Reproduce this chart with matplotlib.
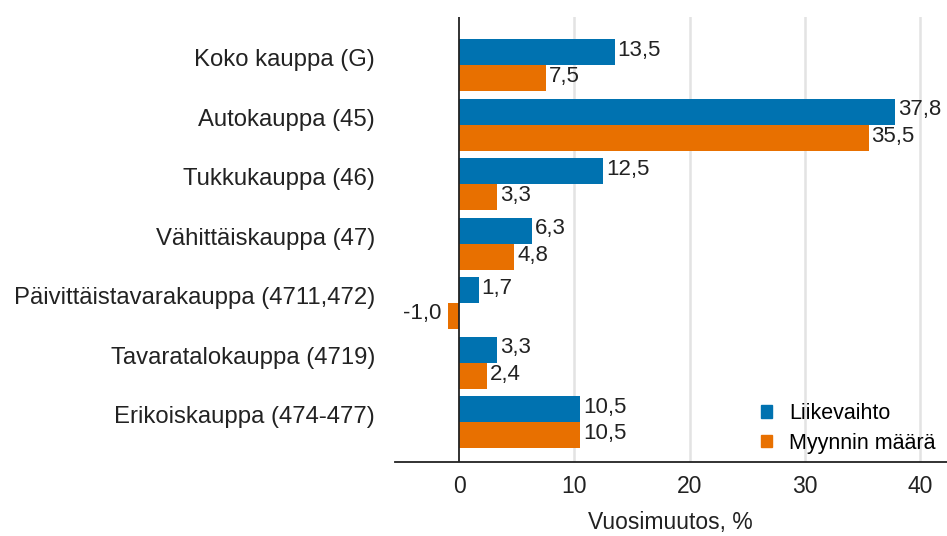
import numpy as np
import matplotlib.pyplot as plt
from matplotlib.patches import Patch
from matplotlib.transforms import ScaledTranslation

plt.rcParams['font.family'] = ['Liberation Sans', 'DejaVu Sans']

categories = ['Koko kauppa (G)', 'Autokauppa (45)', 'Tukkukauppa (46)',
              'Vähittäiskauppa (47)', 'Päivittäistavarakauppa (4711,472)',
              'Tavaratalokauppa (4719)', 'Erikoiskauppa (474-477)']
liikevaihto = [13.5, 37.8, 12.5, 6.3, 1.7, 3.3, 10.5]
myynti = [7.5, 35.5, 3.3, 4.8, -1.0, 2.4, 10.5]
series_names = ['Liikevaihto', 'Myynnin määrä']
colors = ['#0072b0', '#e87000']

fig = plt.figure(figsize=(9.47, 5.36), dpi=100)
ax = fig.add_axes([0.4166, 0.138, 0.5834, 0.830])

y = np.arange(len(categories))
h = 0.44
ax.barh(y - h / 2, liikevaihto, height=h, color=colors[0], zorder=3)
ax.barh(y + h / 2, myynti, height=h, color=colors[1], zorder=3)


def fmt(v):
    return f'{v:.1f}'.replace('.', ',')


for vals, off in [(liikevaihto, -h / 2), (myynti, h / 2)]:
    for yi, v in zip(y, vals):
        if v >= 0:
            ax.text(v + 0.25, yi + off - 0.03, fmt(v), va='center', ha='left', fontsize=16, color='#222222')
        else:
            ax.text(v - 0.5, yi + off - 0.04, fmt(v), va='center', ha='right', fontsize=16, color='#222222')

ax.set_xlim(-5.6, 42.3)
ax.set_ylim(6.67, -0.81)
ax.set_yticks(y)
ax.set_yticklabels(categories, fontsize=17.2, color='#222222')
ax.set_xticks([0, 10, 20, 30, 40])
ax.tick_params(axis='y', length=0, pad=14)
ax.tick_params(axis='x', length=0, pad=9, labelsize=16.5, labelcolor='#222222')
ax.set_xlabel('Vuosimuutos, %', fontsize=16.5, color='#222222', labelpad=10)

# category labels sit a little above the group centre
shift = ScaledTranslation(0, 0.075, fig.dpi_scale_trans)
for lab in ax.get_yticklabels():
    lab.set_transform(lab.get_transform() + shift)

for s in ['top', 'right', 'left']:
    ax.spines[s].set_visible(False)
ax.spines['bottom'].set_color('#222222')
ax.spines['bottom'].set_linewidth(1.3)
ax.axvline(0, color='#222222', lw=1.3, zorder=4)
for gx in [10, 20, 30, 40]:
    ax.axvline(gx, color='#e3e3e3', lw=1.8, zorder=1)

handles = [Patch(color=c) for c in colors]
ax.legend(handles, series_names, loc='lower right', bbox_to_anchor=(1.0145, -0.025),
          frameon=False, fontsize=15.5, handlelength=0.5, handleheight=0.5,
          handletextpad=0.8, labelspacing=0.4)

fig.savefig('out.png', dpi=100)
